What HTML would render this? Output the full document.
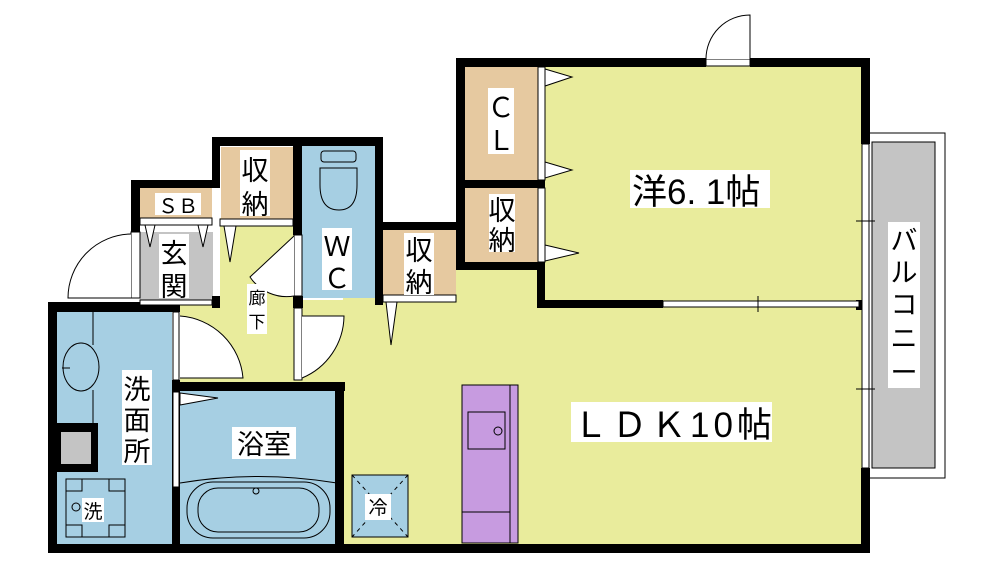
<!DOCTYPE html>
<html><head><meta charset="utf-8"><style>
html,body{margin:0;padding:0;background:#fff;}
svg{display:block;}
text{font-family:"Liberation Sans","Noto Sans CJK JP",sans-serif;fill:#000;}
</style></head><body>
<svg width="1000" height="562" viewBox="0 0 1000 562" xmlns="http://www.w3.org/2000/svg">
<rect x="464" y="66" width="398" height="240" fill="#e9ec9c"/>
<rect x="343" y="270" width="519" height="275" fill="#e9ec9c"/>
<rect x="220" y="218" width="82" height="165" fill="#e9ec9c"/>
<rect x="180" y="300" width="165" height="85" fill="#e9ec9c"/>
<rect x="868" y="133" width="77" height="345" fill="#fff" stroke="#000" stroke-width="1"/>
<rect x="872" y="142" width="63" height="326" fill="#c4c4c4" stroke="#000" stroke-width="1"/>
<rect x="465" y="67" width="73" height="113" fill="#e6c9a0"/>
<rect x="465" y="188" width="73" height="74" fill="#e6c9a0"/>
<rect x="383" y="230" width="73" height="65" fill="#e6c9a0"/>
<rect x="221" y="147" width="72" height="72" fill="#e6c9a0"/>
<rect x="140" y="188" width="72" height="30" fill="#e6c9a0"/>
<rect x="140" y="232" width="73" height="68" fill="#c4c4c4"/>
<rect x="302" y="146" width="73" height="152" fill="#a6cfe3"/>
<rect x="57" y="312" width="115" height="233" fill="#a6cfe3"/>
<rect x="180" y="391" width="157" height="154" fill="#a6cfe3"/>
<g fill="#000">
<rect x="456" y="58" width="250" height="9"/>
<rect x="750" y="58" width="120" height="9"/>
<rect x="861" y="58" width="9" height="86"/>
<rect x="861" y="468" width="9" height="85"/>
<rect x="48" y="544" width="822" height="9"/>
<rect x="456" y="58" width="9" height="212"/>
<rect x="456" y="180" width="89" height="8"/>
<rect x="456" y="262" width="89" height="8"/>
<rect x="537" y="262" width="8" height="46"/>
<rect x="537" y="300" width="126" height="8"/>
<rect x="380" y="222" width="84" height="8"/>
<rect x="375" y="137" width="8" height="168"/>
<rect x="212" y="137" width="171" height="9"/>
<rect x="212" y="137" width="8" height="46"/>
<rect x="293" y="137" width="9" height="98"/>
<rect x="293" y="296" width="10" height="12"/>
<rect x="131" y="180" width="89" height="8"/>
<rect x="131" y="180" width="9" height="52"/>
<rect x="212" y="296" width="8" height="12"/>
<rect x="48" y="302" width="132" height="10"/>
<rect x="48" y="302" width="9" height="251"/>
<rect x="57" y="423" width="41" height="49"/>
<rect x="172" y="302" width="8" height="10"/>
<rect x="172" y="380" width="8" height="173"/>
<rect x="172" y="382" width="173" height="9"/>
<rect x="335" y="382" width="9" height="171"/>
<rect x="856" y="300" width="12" height="10"/>
</g>
<rect x="61" y="432" width="30" height="32" fill="#c4c4c4"/>
<g stroke="#000" stroke-width="1" fill="#fff">
<rect x="663" y="301" width="196" height="6"/>
<rect x="862" y="144" width="7" height="324"/>
</g>
<line x1="758" y1="296" x2="758" y2="312" stroke="#000"/>
<line x1="856" y1="221" x2="875" y2="221" stroke="#000"/>
<line x1="856" y1="389" x2="875" y2="389" stroke="#000"/>
<rect x="706" y="59" width="44" height="7" fill="#fff" stroke="#000"/>
<path d="M706 59 A44 44 0 0 1 750 15 L750 59" fill="#fff" stroke="#000"/>
<g fill="#fff" stroke="#000" stroke-width="1">
<rect x="538" y="67" width="7" height="113"/>
<rect x="538" y="188" width="7" height="74"/>
<path d="M545 69 L572 77 L545 86Z"/>
<path d="M545 162 L572 170 L545 178Z"/>
<path d="M545 245 L579 253 L545 261Z"/>
<rect x="383" y="295" width="73" height="7"/>
<path d="M386 302 L391 345 L397 302Z"/>
<rect x="220" y="219" width="73" height="7"/>
<path d="M224 226 L230 262 L236 226Z"/>
<rect x="140" y="218" width="72" height="7"/>
<path d="M145 225 L150 247 L155 225Z"/>
<path d="M198 225 L203 247 L208 225Z"/>
<rect x="140" y="300" width="72" height="5"/>
<rect x="173" y="312" width="6" height="68"/>
<rect x="173" y="392" width="6" height="95"/>
<path d="M180 393 L218 398 L180 405Z"/>
<rect x="131" y="232" width="9" height="66"/>
<path d="M131 234 A64 64 0 0 0 68 298 L131 298" />
<rect x="294" y="235" width="8" height="61"/>
<path d="M294 236 L250 277 A44 44 0 0 0 294 296"/>
<rect x="294" y="308" width="8" height="72"/>
<path d="M302 378 A68 68 0 0 0 344 316 L302 316"/>
<path d="M180 316 A68 68 0 0 1 243 378 L180 378"/>
</g>
<rect x="352" y="475" width="56" height="62" fill="#a6cfe3"/>
<g fill="none" stroke="#000" stroke-width="1">
<rect x="321" y="151" width="35" height="11" rx="3"/>
<path d="M320 168 L357 168 L357 185 Q357 210 339 210 Q320 210 320 185Z"/>
<path d="M93 312 L93 345 M93 390 L93 423"/>
<ellipse cx="81" cy="367" rx="18" ry="24"/>
<line x1="62" y1="368" x2="70" y2="368"/>
<rect x="66" y="479" width="59" height="58"/>
<path d="M66 491 H82 V479 M109 479 V491 H125 M66 525 H82 V537 M109 537 V525 H125"/>
<circle cx="76" cy="507" r="4"/>
<path d="M180 483 Q258 470 337 483"/>
<rect x="187" y="482" width="143" height="56" rx="26"/>
<rect x="198" y="488" width="121" height="44" rx="20"/>
<circle cx="256" cy="491" r="3"/>
<rect x="352" y="475" width="56" height="62"/>
<path d="M352 475 L408 537 M408 475 L352 537" stroke-dasharray="4 4"/>
</g>
<rect x="462" y="385" width="56" height="158" fill="#c79be0" stroke="#000"/>
<line x1="510" y1="385" x2="510" y2="543" stroke="#000"/>
<line x1="462" y1="512" x2="510" y2="512" stroke="#000"/>
<rect x="468" y="412" width="37" height="37" fill="none" stroke="#000"/>
<circle cx="498" cy="431" r="4" fill="none" stroke="#000"/>
<g fill="#fff">
<rect x="630" y="170" width="140" height="38"/>
<rect x="571" y="402" width="201" height="40"/>
<rect x="888" y="222" width="32" height="166"/>
<rect x="488" y="88" width="26" height="66"/>
<rect x="489" y="194" width="26" height="58"/>
<rect x="404" y="233" width="30" height="62"/>
<rect x="240" y="150" width="30" height="66"/>
<rect x="322" y="228" width="30" height="62"/>
<rect x="155" y="193" width="46" height="22"/>
<rect x="159" y="234" width="30" height="64"/>
<rect x="247" y="284" width="20" height="50"/>
<rect x="122" y="370" width="30" height="95"/>
<rect x="232" y="427" width="64" height="32"/>
<rect x="82" y="498" width="22" height="24"/>
<rect x="365" y="494" width="26" height="26"/>
</g>
<text x="632" y="204" font-size="35">洋6. 1帖</text>
<text x="573" y="437" font-size="35" letter-spacing="4">ＬＤＫ10帖</text>
<g font-size="27" text-anchor="middle">
<text x="904" y="250">バ</text><text x="904" y="282">ル</text><text x="904" y="314">コ</text><text x="904" y="348">ニ</text><text x="904" y="382">ー</text>
<text x="501" y="117">Ｃ</text><text x="501" y="150">Ｌ</text>
<text x="502" y="220">収</text><text x="502" y="250">納</text>
<text x="419" y="260">収</text><text x="419" y="292">納</text>
<text x="255" y="180">収</text><text x="255" y="214">納</text>
<text x="337" y="256">Ｗ</text><text x="337" y="288">Ｃ</text>
<text x="174" y="263">玄</text><text x="174" y="296">関</text>
<text x="137" y="399">洗</text><text x="137" y="430">面</text><text x="137" y="461">所</text>
<text x="264" y="454">浴室</text>
</g>
<text x="178" y="213" font-size="20" text-anchor="middle">ＳＢ</text>
<text x="257" y="304" font-size="17" text-anchor="middle">廊</text>
<text x="257" y="328" font-size="17" text-anchor="middle">下</text>
<text x="93" y="518" font-size="19" text-anchor="middle">洗</text>
<text x="378" y="514" font-size="19" text-anchor="middle">冷</text>
</svg>
</body></html>
